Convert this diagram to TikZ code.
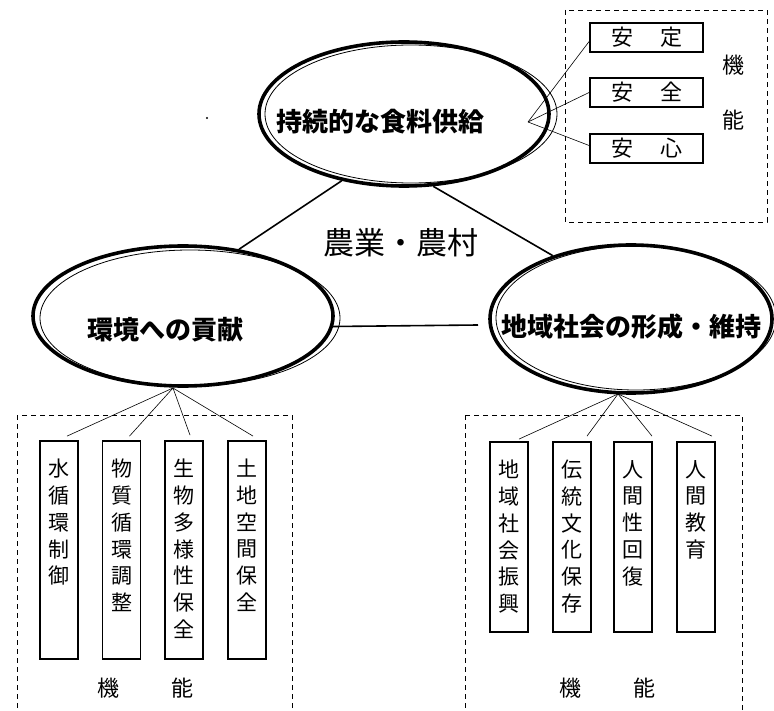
\documentclass[tikz,border=0pt]{standalone}
\usepackage{fontspec}
\setmainfont{Noto Sans CJK JP}
\usetikzlibrary{shapes.geometric}
\begin{document}
\begin{tikzpicture}[x=1pt,y=-1pt,
  big/.style={ellipse, draw, line width=3.6pt, inner sep=0pt},
  thinring/.style={line width=0.8pt},
  fbox/.style={draw, line width=1.8pt, inner sep=0pt, minimum width=113pt, minimum height=29pt, font=\fontsize{22}{24}\selectfont},
  vbox/.style={draw, line width=1.8pt, inner sep=0pt, minimum width=38pt},
  vtext/.style={anchor=north, yshift=-19pt, inner sep=0pt, align=center, font=\fontsize{21}{26.7}\selectfont},
  dbox/.style={draw, dash pattern=on 5pt off 4pt, line width=0.9pt},
  conn/.style={line width=1.6pt},
  fan/.style={line width=0.6pt},
  kino/.style={inner sep=0pt, font=\fontsize{22}{24}\selectfont},
  bigtext/.style={font=\fontsize{26}{30}\selectfont\bfseries}
]
\useasboundingbox[clip] (0,0) rectangle (774,711);
\fill[white] (0,0) rectangle (774,711);

% dashed frames
\draw[dbox] (565,10) rectangle (767,222);
\draw[dbox] (17,415) rectangle (292,730);
\draw[dbox] (465,415) rectangle (742,730);

% main ellipses
\node[big, minimum width=290pt, minimum height=144pt,
  label={[bigtext, xshift=-24pt, yshift=-8pt]center:持続的な食料供給}] (top) at (404,114) {};
\draw[thinring] (411,114) ellipse [x radius=146pt, y radius=69pt];

\node[big, minimum width=300pt, minimum height=140pt,
  label={[bigtext, xshift=-18pt, yshift=-14pt]center:環境への貢献}] (left) at (183,316) {};
\draw[thinring] (190,318) ellipse [x radius=150pt, y radius=68pt];

\node[big, minimum width=282pt, minimum height=148pt,
  label={[bigtext, xshift=0pt, yshift=-8pt]center:地域社会の形成・維持}] (right) at (631,319) {};
\draw[thinring] (636,318) ellipse [x radius=140pt, y radius=72pt];

% centre title
\node[font=\fontsize{31}{34}\selectfont] (title) at (401,243) {農業・農村};
\fill (207,118) circle (1.2pt);

% connectors between ellipses
\draw[conn] (top.-133) -- (left.50);
\draw[conn] (top.-68) -- (right.141);
\coordinate (hr) at (478,325);
\draw[conn] (left.-4) -- (hr);

% top functions
\node[fbox] (b1) at (646.5,37.5) {安\hspace{27pt}定};
\node[fbox] (b2) at (646.5,92.5) {安\hspace{27pt}全};
\node[fbox] (b3) at (646.5,148.5) {安\hspace{27pt}心};
\node[kino] (k1) at (733,65) {機};
\node[kino] (n1) at (733,120) {能};
\coordinate (tfan) at (528,122);
\draw[fan] (tfan) -- ([yshift=-4pt]b1.west);
\draw[fan] (tfan) -- (b2.west);
\draw[fan] (tfan) -- ([yshift=3pt]b3.west);

% left functions
\node[vbox, minimum height=218pt, label={[vtext]north:水\\循\\環\\制\\御}] (e1) at (59,550) {};
\node[vbox, minimum height=218pt, label={[vtext]north:物\\質\\循\\環\\調\\整}] (e2) at (121.5,550) {};
\node[vbox, minimum height=218pt, label={[vtext]north:生\\物\\多\\様\\性\\保\\全}] (e3) at (184,550) {};
\node[vbox, minimum height=218pt, label={[vtext]north:土\\地\\空\\間\\保\\全}] (e4) at (247,550) {};
\coordinate (lfan) at (173,388);
\draw[fan] (lfan) -- ([xshift=8pt,yshift=4pt]e1.north);
\draw[fan] (lfan) -- ([xshift=8pt,yshift=4pt]e2.north);
\draw[fan] (lfan) -- ([xshift=6pt,yshift=5pt]e3.north);
\draw[fan] (lfan) -- ([xshift=6pt,yshift=4pt]e4.north);
\node[kino] (k2) at (108,688) {機};
\node[kino] (n2) at (182,688) {能};

% right functions
\node[vbox, minimum height=190pt, label={[vtext]north:地\\域\\社\\会\\振\\興}] (s1) at (509,537) {};
\node[vbox, minimum height=190pt, label={[vtext]north:伝\\統\\文\\化\\保\\存}] (s2) at (572,537) {};
\node[vbox, minimum height=190pt, label={[vtext]north:人\\間\\性\\回\\復}] (s3) at (633,537) {};
\node[vbox, minimum height=190pt, label={[vtext]north:人\\間\\教\\育}] (s4) at (696,537) {};
\coordinate (rfan) at (618,394);
\draw[fan] (rfan) -- ([xshift=10pt,yshift=2pt]s1.north);
\draw[fan] (rfan) -- ([xshift=15pt,yshift=5pt]s2.north);
\draw[fan] (rfan) -- ([xshift=19pt,yshift=5pt]s3.north);
\draw[fan] (rfan) -- ([xshift=16pt,yshift=5pt]s4.north);
\node[kino] (k3) at (570,688) {機};
\node[kino] (n3) at (644,688) {能};
\end{tikzpicture}
\end{document}
